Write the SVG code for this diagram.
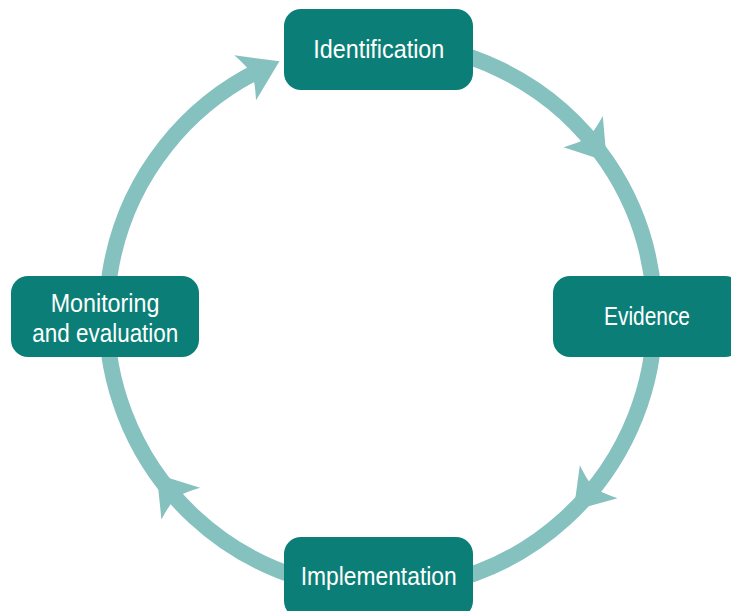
<svg xmlns="http://www.w3.org/2000/svg" xmlns:xlink="http://www.w3.org/1999/xlink" width="731" height="611" viewBox="0 0 731 611">
<style>
.ring{fill:none;stroke:#85C1BF;stroke-width:16}
.ah{fill:#85C1BF}
.box{fill:#0B7F77}
.lbl{fill:#FFFFFF;font-family:"Liberation Sans",Arial,sans-serif;font-size:25px}
</style>
<defs>
<path id="arrowhead" class="ah" d="M38 0 L0 -25 Q6 -11 8 0 Q6 11 0 25 Z"/>
</defs>
<rect width="731" height="611" fill="#FFFFFF"/>
<g id="connectors">
<path class="ring" d="M380.5 42 A274 274 0 1 1 262.6 68.7"/>
<use xlink:href="#arrowhead" transform="translate(583.2 131.6) rotate(51.6)"/>
<use xlink:href="#arrowhead" transform="translate(598.7 481.7) rotate(131.1)"/>
<use xlink:href="#arrowhead" transform="translate(180.8 503.6) rotate(230.7)"/>
<use xlink:href="#arrowhead" transform="translate(245.2 77.8) rotate(334.3)"/>
</g>
<g id="identification">
<rect class="box" x="284" y="9" width="189" height="81" rx="17"/>
<text class="lbl" x="313.3" y="58.3" textLength="131" lengthAdjust="spacingAndGlyphs">Identification</text>
</g>
<g id="evidence">
<rect class="box" x="553" y="276" width="189" height="81" rx="17"/>
<text class="lbl" x="604" y="325" textLength="86" lengthAdjust="spacingAndGlyphs">Evidence</text>
</g>
<g id="implementation">
<rect class="box" x="284" y="537" width="189" height="81" rx="17"/>
<text class="lbl" x="300.7" y="585" textLength="156" lengthAdjust="spacingAndGlyphs">Implementation</text>
</g>
<g id="monitoring">
<rect class="box" x="11" y="276" width="188" height="81" rx="17"/>
<text class="lbl" x="50.7" y="311.7" textLength="108.7" lengthAdjust="spacingAndGlyphs">Monitoring</text>
<text class="lbl" x="32.3" y="341.7" textLength="146" lengthAdjust="spacingAndGlyphs">and evaluation</text>
</g>
</svg>
